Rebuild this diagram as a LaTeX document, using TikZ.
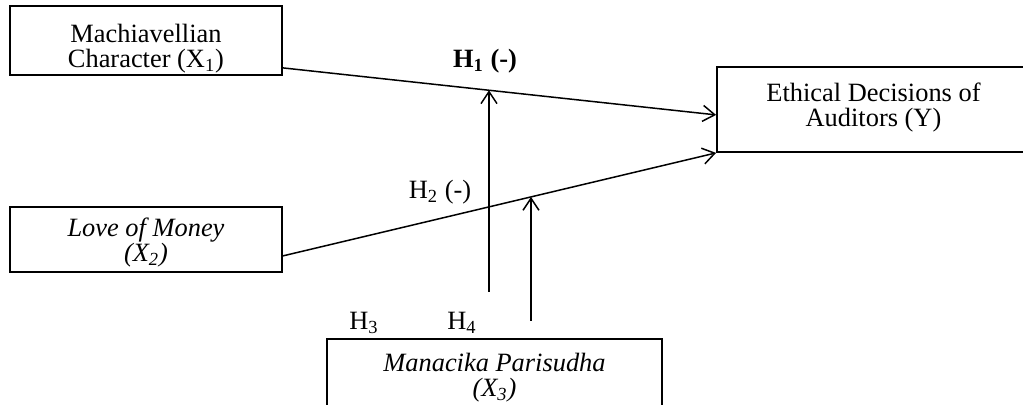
\documentclass[tikz,border=0pt]{standalone}
\usepackage{fontspec}
\setmainfont{Liberation Serif}
\usetikzlibrary{arrows.meta, positioning, calc}

\newcommand{\toppad}[1]{\rule{0pt}{#1}}

\begin{document}
\begin{tikzpicture}[x=0.5pt, y=-0.5pt,
  varbox/.style={draw, line width=0.9pt, align=center, inner sep=0pt, font=\fontsize{13.2}{12.6}\selectfont},
  hyp/.style={font=\fontsize{13.2}{12.6}\selectfont, inner sep=0pt},
  link/.style={line width=0.75pt, -{Straight Barb[length=6pt, width=8pt]}}]
\useasboundingbox (0,0) rectangle (1023,405);
% Variables
\node[varbox, minimum width=136pt, minimum height=34.5pt] (x1) at (146,40.5) {\toppad{17pt}Machiavellian\\Character (X\textsubscript{1})};
\node[varbox, minimum width=136pt, minimum height=32.5pt] (x2) at (146,239.5) {\toppad{12pt}\textit{Love of Money}\\\textit{(X\textsubscript{2})}};
\node[varbox, minimum width=156.5pt, minimum height=42.5pt] (y) at (873.5,109.5) {Ethical Decisions of\\Auditors (Y)\rule[-5pt]{0pt}{5pt}};
\node[varbox, minimum width=167.5pt, minimum height=36pt] (x3) at (494.5,375) {\toppad{12pt}\textit{Manacika Parisudha}\\\textit{(X\textsubscript{3})}};
% Connector ends
\coordinate (s1) at ($(x1.south east)+(0,-8)$);
\coordinate (t1) at ($(y.south west)+(0,-38)$);
\coordinate (s2) at ($(x2.south east)+(0,-17)$);
\coordinate (t2) at (y.south west);
\coordinate (m1) at ($(s1)!0.476!(t1)$);
\coordinate (m2) at ($(s2)!0.5724!(t2)$);
\coordinate (b1) at (489,292);
\coordinate (b2) at (531,321);
% Direct effects
\draw[link] (s1) -- (t1);
\draw[link] (s2) -- (t2);
% Moderation
\draw[link] (b1) -- (b1 |- m1);
\draw[link] (b2) -- (b2 |- m2);
% Hypotheses
\node[hyp] (h1) at (485,61) {\textbf{H\textsubscript{1} (-)}};
\node[hyp] (h2) at (440,192) {H\textsubscript{2} (-)};
\node[hyp] (h3) at (364,323) {H\textsubscript{3}};
\node[hyp] (h4) at (462,323) {H\textsubscript{4}};
\end{tikzpicture}
\end{document}
